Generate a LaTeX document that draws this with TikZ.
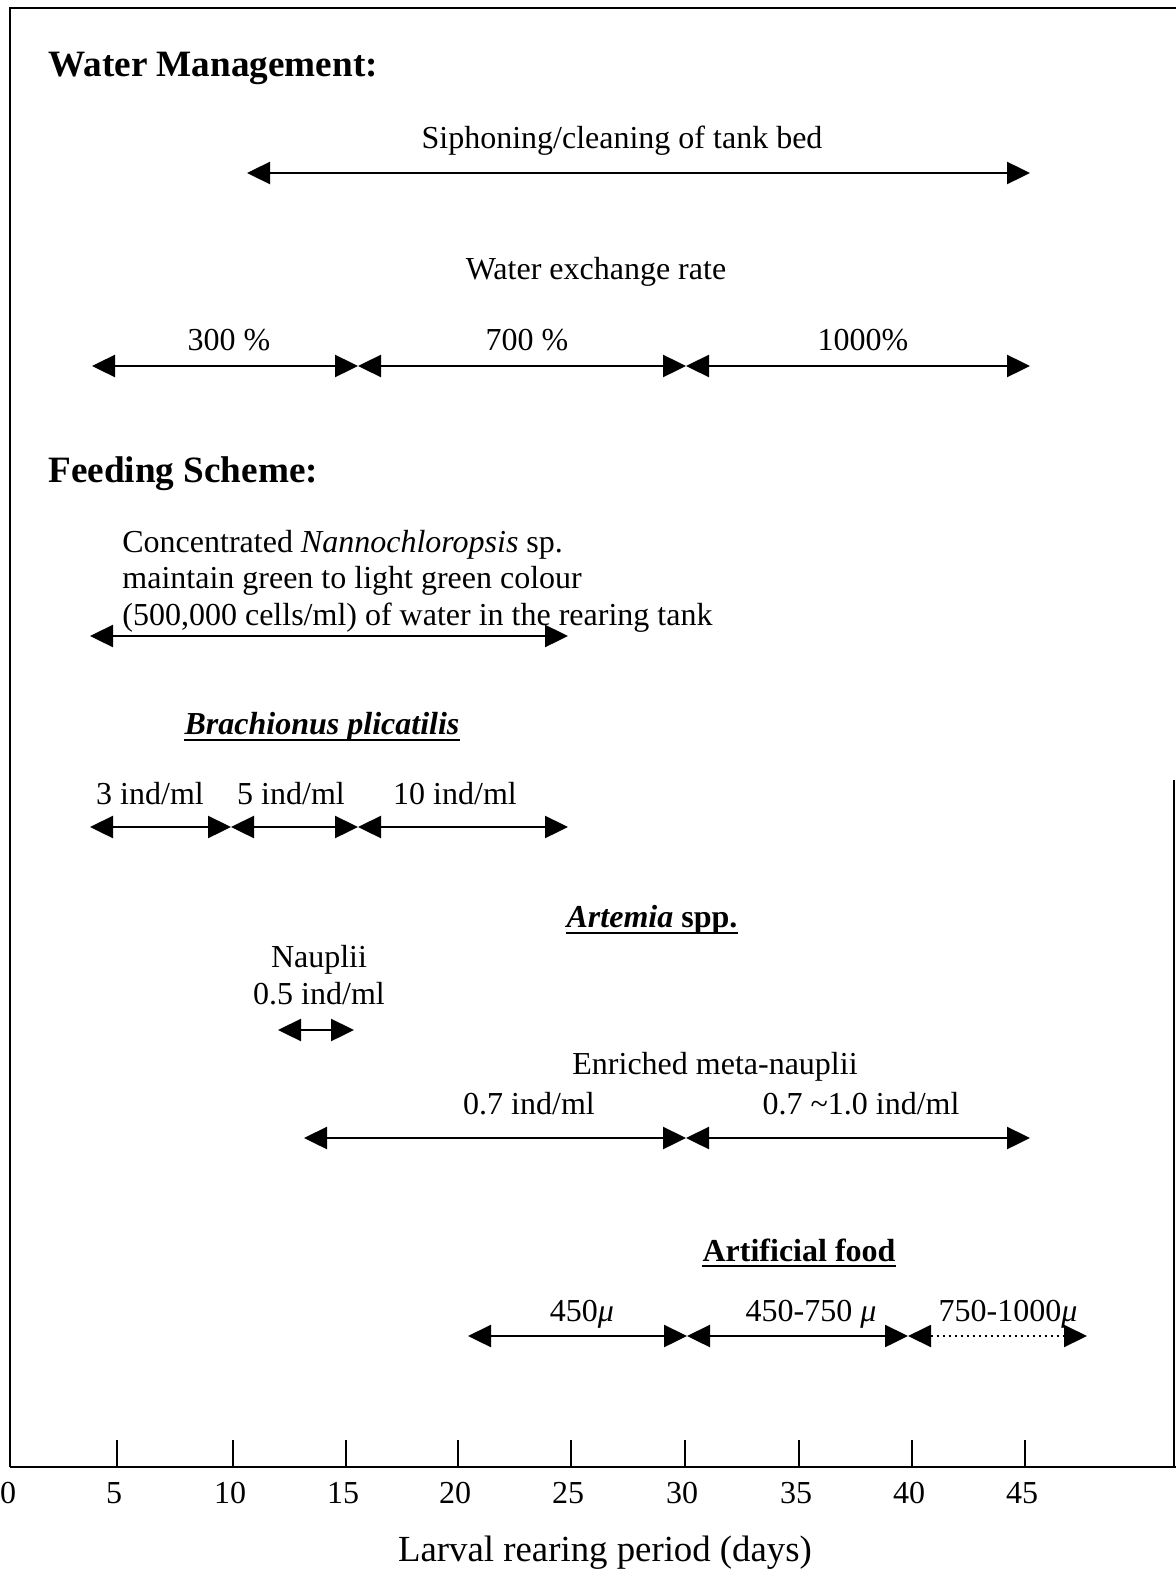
\documentclass[tikz,border=0pt]{standalone}
\usepackage{fontspec}
\setmainfont{Liberation Serif}
\usepackage{tikz}
\usetikzlibrary{arrows.meta}

\begin{document}
\begin{tikzpicture}[x=0.5pt, y=-0.5pt, >={Triangle[length=11.5pt, width=11pt]},
    span/.style={<->, line width=1.2pt},
    txt/.style={inner sep=0pt, font=\fontsize{16}{18.3}\selectfont},
    head/.style={inner sep=0pt, anchor=west, font=\fontsize{18.6}{22}\selectfont\bfseries},
    sub/.style={inner sep=0pt, font=\fontsize{16}{19}\selectfont\bfseries},
    uline/.style={line width=1.1pt}]

\useasboundingbox (0,0) rectangle (1176,1573);

% ── Frame and time axis ─────────────────────────────────────────
\draw[line width=0.6pt] (10,1467) -- (10,8) -- (1176,8);
\draw[line width=0.9pt] (1174,780) -- (1174,1467);
\draw[line width=0.8pt] (10,1467) -- (1176,1467);
\foreach \d/\x in {5/117, 10/233, 15/346, 20/458, 25/571, 30/685, 35/799, 40/912, 45/1025} {
    \draw[line width=0.6pt] (\x,1440) -- (\x,1467);
    \node[txt] (t\d) at (\x-3,1493) {\d};
}
\node[txt] (t0) at (8,1493) {0};
\node[txt, font=\fontsize{18.4}{22}\selectfont] (xlabel) at (605,1553) {Larval rearing period (days)};

% ── Water management ────────────────────────────────────────────
\node[head] (wm) at (48,68) {Water Management:};

\node[txt] (siph) at (622,141) {Siphoning/cleaning of tank bed};
\coordinate (s0) at (247,173);
\coordinate (s1) at (1030,173);
\draw[span] (s0) -- (s1);

\node[txt] (wer) at (596,272) {Water exchange rate};
\node[txt] (w300) at (229,340) {300 \%};
\node[txt] (w700) at (527,340) {700 \%};
\node[txt] (w1000) at (863,340) {1000\%};
\coordinate (w0) at (92,366);
\coordinate (w1) at (358,366);
\coordinate (w2) at (686,366);
\coordinate (w3) at (1030,366);
\draw[span] (w0) -- (w1);
\draw[span] (w1) -- (w2);
\draw[span] (w2) -- (w3);

% ── Feeding scheme ──────────────────────────────────────────────
\node[head] (fs) at (48,474) {Feeding Scheme:};

\node[txt, anchor=west, align=left] (nanno) at (122,581)
    {Concentrated \textit{Nannochloropsis} sp.\\maintain green to light green colour\\(500,000 cells/ml) of water in the rearing tank};
\coordinate (n0) at (90,636);
\coordinate (n1) at (568,636);
\draw[span] (n0) -- (n1);

% Brachionus
\node[sub] (brach) at (322,727) {\textit{Brachionus plicatilis}};
\draw[uline] ([yshift=-2.5pt]brach.base west) -- ([yshift=-2.5pt]brach.base east);
\node[txt] (b3) at (150,794) {3 ind/ml};
\node[txt] (b5) at (291,794) {5 ind/ml};
\node[txt] (b10) at (455,794) {10 ind/ml};
\coordinate (b0) at (90,827);
\coordinate (b1) at (231,827);
\coordinate (b2) at (358,827);
\coordinate (b3e) at (568,827);
\draw[span] (b0) -- (b1);
\draw[span] (b1) -- (b2);
\draw[span] (b2) -- (b3e);

% Artemia
\node[sub] (artem) at (652,920) {\textit{Artemia} spp.};
\draw[uline] ([yshift=-2.5pt]artem.base west) -- ([yshift=-2.5pt]artem.base east);
\node[txt, align=center] (naup) at (319,975) {Nauplii\\0.5 ind/ml};
\coordinate (a0) at (278,1030);
\coordinate (a1) at (354,1030);
\draw[span] (a0) -- (a1);

\node[txt] (meta) at (715,1067) {Enriched meta-nauplii};
\node[txt] (m07) at (529,1104) {0.7 ind/ml};
\node[txt] (m10) at (861,1104) {0.7 \textasciitilde1.0 ind/ml};
\coordinate (m0) at (304,1138);
\coordinate (m1) at (686,1138);
\coordinate (m2) at (1030,1138);
\draw[span] (m0) -- (m1);
\draw[span] (m1) -- (m2);

% Artificial food
\node[sub] (artif) at (799,1250) {Artificial food};
\draw[uline] ([yshift=-2.5pt]artif.base west) -- ([yshift=-2.5pt]artif.base east);
\node[txt] (f450) at (582,1314) {450\textit{μ}};
\node[txt] (f750) at (811,1314) {450-750 \textit{μ}};
\node[txt] (f1000) at (1008,1314) {750-1000\textit{μ}};
\coordinate (f0) at (468,1336);
\coordinate (f1) at (687,1336);
\coordinate (f2) at (908,1336);
\coordinate (f3) at (1087,1336);
\draw[span] (f0) -- (f1);
\draw[span] (f1) -- (f2);
\draw[span, line width=1pt, dash pattern=on 1pt off 2pt] (f2) -- (f3);

\end{tikzpicture}
\end{document}
